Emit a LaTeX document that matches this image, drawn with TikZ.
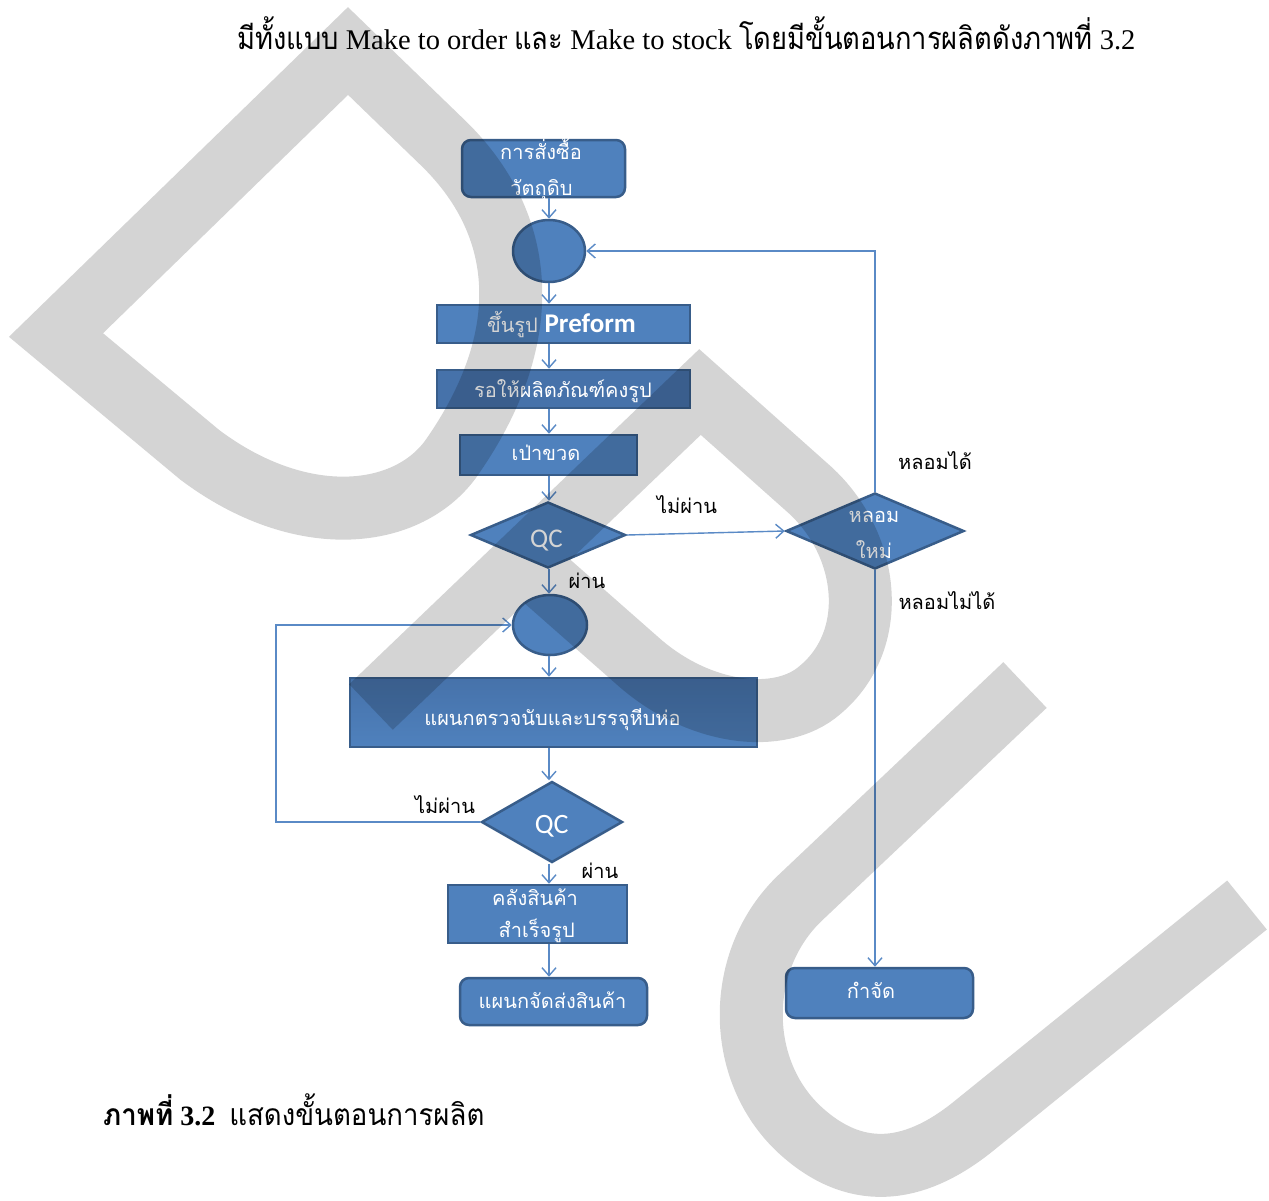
\documentclass[tikz,border=0pt]{standalone}
\usepackage{fontspec}
\setmainfont{Liberation Serif}
\newfontfamily\thai[Script=Thai]{Loma}
\newfontfamily\thain[Script=Thai,FakeStretch=0.88]{Loma}
\newfontfamily\thaic[Script=Thai,FakeStretch=0.92]{Loma}
\newfontfamily\calib{Carlito}
\usetikzlibrary{shapes.geometric,arrows.meta}
\definecolor{bfill}{HTML}{4F81BD}
\definecolor{bdark}{HTML}{4672AA}
\definecolor{bdr}{HTML}{385D8A}
\definecolor{lnc}{HTML}{5A8AC6}
\begin{document}
\begin{tikzpicture}[x=1pt,y=-1pt,
  procbox/.style={draw=bdr,fill=bfill,line width=2.5pt,inner sep=0pt},
  rbox/.style={procbox,rounded corners=9pt},
  ell/.style={procbox,ellipse},
  dia/.style={procbox,diamond},
  wt/.style={text=white,font=\thai\fontsize{20}{24}\selectfont,inner sep=0pt,anchor=base},
  lt/.style={text=black,font=\thai\fontsize{20}{24}\selectfont,inner sep=0pt,anchor=base},
  qc/.style={text=white,inner sep=0pt,anchor=base},
  conn/.style={draw=lnc,line width=1.4pt,-{Straight Barb[length=8pt,width=14pt]}}]
\useasboundingbox (0,0) rectangle (1269,1200);
\fill[white] (0,0) rectangle (1269,1200);

% title and caption
\node[anchor=base west,inner sep=0pt] (title) at (237,49)
  {\fontsize{28.5}{34}\selectfont{\thain\fontsize{31}{36}\selectfont มีทั้งแบบ} Make to order {\thain\fontsize{31}{36}\selectfont และ} Make to stock {\thain\fontsize{31}{36}\selectfont โดยมีขั้นตอนการผลิตดังภาพที่} 3.2};
\node[anchor=base west,inner sep=0pt] (caption) at (103,1125)
  {\fontsize{28}{34}\selectfont{\thaic\bfseries\fontsize{30}{36}\selectfont ภาพที่} \textbf{3.2}\hspace{14pt}{\thaic\fontsize{30}{36}\selectfont แสดงขั้นตอนการผลิต}};

% shapes
\node[rbox,minimum width=163pt,minimum height=57pt] (b1) at (543.5,168.5) {};
\node[ell,minimum width=72pt,minimum height=62pt] (c1) at (549,251) {};
\node[procbox,minimum width=253pt,minimum height=38pt] (b2) at (563.5,324) {};
\node[procbox,fill=bdark,minimum width=253pt,minimum height=38pt] (b3) at (563.5,389) {};
\node[procbox,minimum width=177pt,minimum height=40pt] (b4) at (548.5,455) {};
\node[dia,minimum width=155pt,minimum height=66pt] (d1) at (548,535) {};
\node[dia,minimum width=178pt,minimum height=76pt] (d2) at (875,531) {};
\node[ell,minimum width=74pt,minimum height=60pt] (c2) at (550,625) {};
\node[procbox,top color=bdark,bottom color=bfill,minimum width=407pt,minimum height=69pt] (b5) at (553.5,712.5) {};
\node[dia,minimum width=141pt,minimum height=81pt] (d3) at (552,822) {};
\node[procbox,minimum width=179pt,minimum height=58pt] (b6) at (537.5,914) {};
\node[rbox,minimum width=187pt,minimum height=47pt] (b7) at (553.5,1001.5) {};
\node[rbox,minimum width=187pt,minimum height=50pt] (b8) at (879.5,993) {};

% texts in shapes
\node[wt] (t1a) at (541,159) {การสั่งซื้อ};
\node[wt] (t1b) at (541.5,195) {วัตถุดิบ};
\node[wt] (t2) at (561.5,332) {ขึ้นรูป {\calib\bfseries\fontsize{27}{30}\selectfont Preform}};
\node[wt] (t3) at (563,397) {รอให้ผลิตภัณฑ์คงรูป};
\node[wt] (t4) at (546,460) {เป่าขวด};
\node[qc,font=\calib\fontsize{27}{30}\selectfont] (q1) at (546.5,547) {QC};
\node[wt] (t5a) at (874,522) {หลอม};
\node[wt] (t5b) at (874,558) {ใหม่};
\node[wt] (t6) at (552.5,725) {แผนกตรวจนับและบรรจุหีบห่อ};
\node[qc,font=\calib\fontsize{28}{30}\selectfont] (q2) at (551.7,833) {QC};
\node[wt] (t7a) at (535,905) {คลังสินค้า};
\node[wt] (t7b) at (536.7,937) {สำเร็จรูป};
\node[wt] (t8) at (552.5,1008) {แผนกจัดส่งสินค้า};
\node[wt] (t9) at (871,998) {กำจัด};

% connector labels
\node[lt] (l1) at (687,513) {ไม่ผ่าน};
\node[lt] (l2) at (587,588) {ผ่าน};
\node[lt] (l3) at (935,469) {หลอมได้};
\node[lt] (l4) at (947,609) {หลอมไม่ได้};
\node[lt] (l5) at (445,813) {ไม่ผ่าน};
\node[lt] (l6) at (600,878) {ผ่าน};

% connectors
\coordinate (col) at (549,0);
\coordinate (fbx) at (276,0);
\draw[conn] (b1.south -| col) -- (c1.north);
\draw[conn] (c1.south) -- (c1.south |- b2.north);
\draw[conn] (b2.south -| col) -- (b3.north -| col);
\draw[conn] (b3.south -| col) -- (b4.north -| col);
\draw[conn] (b4.south -| col) -- (d1.north -| col);
\draw[conn] (d1.east) -- (d2.west);
\draw[conn] (d2.north) |- (c1.east);
\draw[conn] (d2.south) -- (d2.south |- b8.north);
\draw[conn] (d1.south -| col) -- (c2.north -| col);
\draw[conn] (c2.south -| col) -- (b5.north -| col);
\draw[conn] (b5.south -| col) -- (d3.north -| col);
\draw[conn] (d3.west) -- (d3.west -| fbx) |- (c2.west);
\draw[conn] (d3.south -| col) -- (b6.north -| col);
\draw[conn] (b6.south -| col) -- (b7.north -| col);

% watermark
\begin{scope}[draw=black,draw opacity=0.17,line width=63pt,line join=miter,line cap=butt]
\draw (56,335) -- (348,51) -- (440,140) .. controls (530,225) and (535,340) .. (450,460)
  .. controls (405,520) and (300,530) .. (200,455) -- cycle;
\draw (371,707) -- (700,392) -- (810,490) .. controls (870,545) and (880,640) .. (820,690)
  .. controls (780,725) and (700,715) .. (640,663) -- (523,560);
\draw (1025,685) -- (800,898) .. controls (735,960) and (735,1070) .. (800,1130)
  .. controls (860,1185) and (920,1170) .. (975,1125) -- (1247,905);
\end{scope}
\end{tikzpicture}
\end{document}
